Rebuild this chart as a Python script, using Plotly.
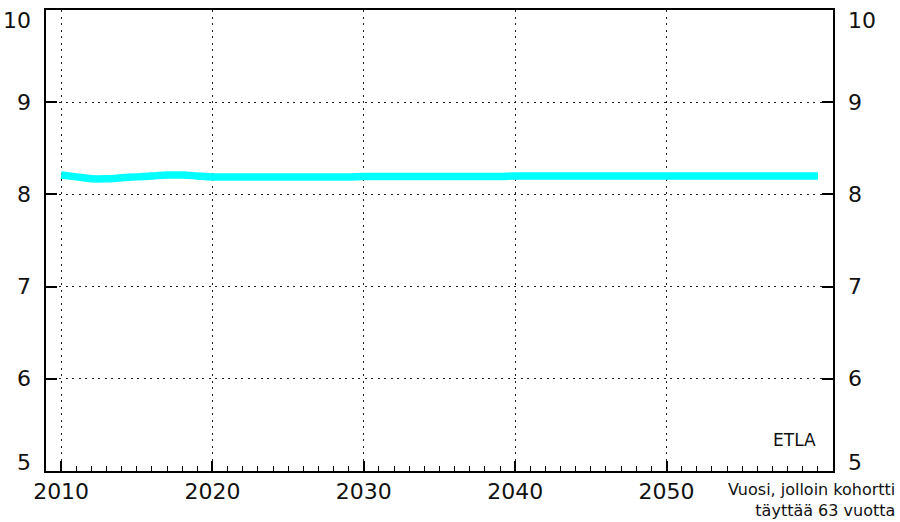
import plotly.graph_objects as go

years = list(range(2010, 2061))
values = [8.21, 8.19, 8.17, 8.17, 8.18, 8.19, 8.20, 8.21, 8.21, 8.20,
          8.19, 8.19, 8.19, 8.19, 8.19, 8.19, 8.19, 8.19, 8.19, 8.19,
          8.195, 8.195, 8.195, 8.195, 8.195, 8.195, 8.195, 8.195, 8.195, 8.195,
          8.20, 8.20, 8.20, 8.20, 8.20, 8.20, 8.20, 8.20, 8.20, 8.20,
          8.20, 8.20, 8.20, 8.20, 8.20, 8.20, 8.20, 8.20, 8.20, 8.20, 8.20]
x_ticks = [2010, 2020, 2030, 2040, 2050]
y_ticks = [5, 6, 7, 8, 9, 10]
y_shift = {5: 9, 10: -10}

FONT = "DejaVu Sans"

fig = go.Figure()
fig.add_trace(go.Scatter(x=years, y=values, mode="lines",
                         line=dict(color="#00FFFF", width=7.5, shape="spline"),
                         hoverinfo="skip", showlegend=False))

for v in y_ticks:
    for xpos, anchor, xs in ((0, "right", -13), (1, "left", 13)):
        fig.add_annotation(x=xpos, xref="paper", y=v, yref="y", text=str(v),
                           showarrow=False, xanchor=anchor, yanchor="middle",
                           xshift=xs, yshift=y_shift.get(v, 0),
                           font=dict(family=FONT, size=22, color="#111"))

fig.add_annotation(x=1, xref="paper", y=5, yref="y", text="ETLA", showarrow=False,
                   xanchor="right", yanchor="bottom", xshift=-15, yshift=19,
                   font=dict(family=FONT, size=17, color="#111"))
fig.add_annotation(x=1, xref="paper", y=0, yref="paper",
                   text="Vuosi, jolloin kohortti<br>täyttää 63 vuotta",
                   showarrow=False, xanchor="right", yanchor="top", align="right",
                   xshift=64, yshift=-7,
                   font=dict(family=FONT, size=16, color="#111"))

GRID_DASH = "2px,4.5px"

fig.update_layout(
    width=900, height=522,
    margin=dict(l=46, r=67, t=10, b=51, autoexpand=False),
    paper_bgcolor="white", plot_bgcolor="white",
    xaxis=dict(range=[2009, 2061], tickvals=x_ticks, ticks="inside", ticklen=10,
               tickcolor="black", tickwidth=1.5, automargin=False,
               showline=True, linecolor="black", linewidth=1.5, mirror=True,
               showgrid=True, gridcolor="#222", griddash=GRID_DASH, gridwidth=1,
               zeroline=False,
               minor=dict(dtick=1, tick0=2010, ticks="inside", ticklen=5,
                          tickcolor="black", tickwidth=1, showgrid=False),
               tickfont=dict(family=FONT, size=22, color="#111")),
    yaxis=dict(range=[5, 10], tickvals=y_ticks, ticks="inside", ticklen=11,
               tickcolor="black", tickwidth=1.5, showticklabels=False,
               automargin=False,
               showline=True, linecolor="black", linewidth=1.5, mirror="ticks",
               showgrid=True, gridcolor="#222", griddash=GRID_DASH, gridwidth=1,
               zeroline=False),
)

fig.write_html("out.html", config={"displayModeBar": False},
               post_script="document.body.style.margin='0';document.body.style.padding='0';")
